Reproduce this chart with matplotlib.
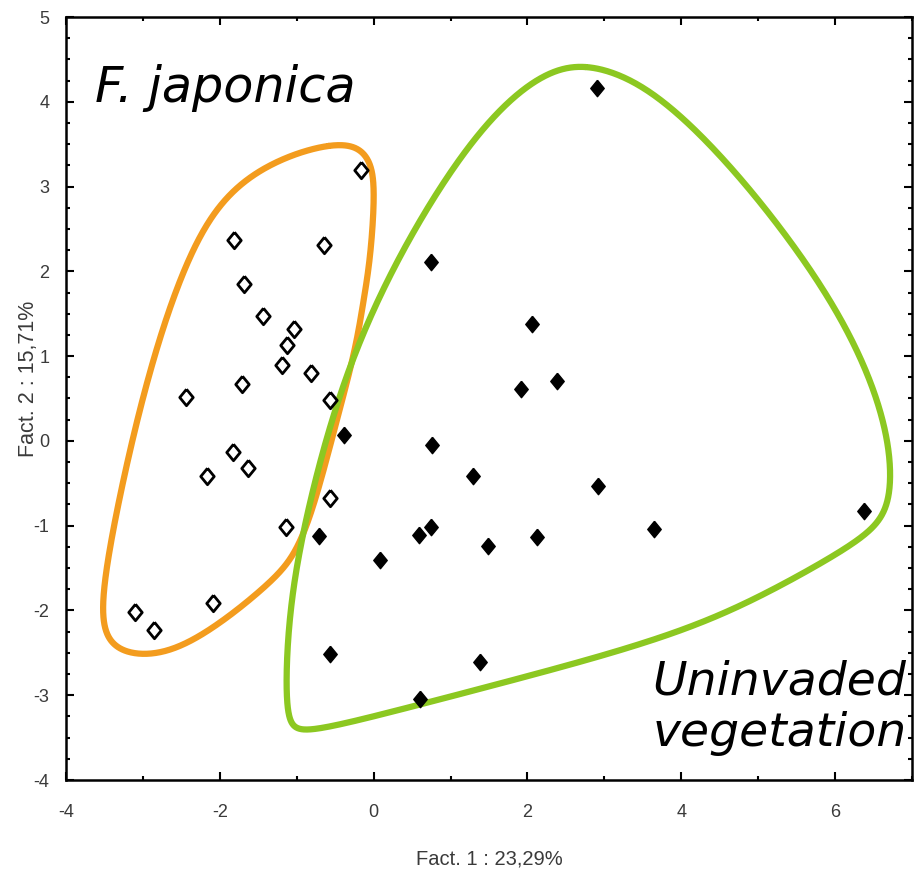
import numpy as np
import matplotlib
matplotlib.use("Agg")
import matplotlib.pyplot as plt
from matplotlib.ticker import MultipleLocator

plt.rcParams['axes.unicode_minus'] = False

# ---- data ----
jap_x = [-0.16, -1.82, -0.65, -1.68, -1.44, -1.04, -1.12, -1.19, -0.82, -2.44,
         -1.71, -0.57, -1.83, -1.64, -2.17, -0.57, -1.14, -2.09, -3.10, -2.86]
jap_y = [3.20, 2.37, 2.31, 1.85, 1.47, 1.32, 1.13, 0.90, 0.80, 0.52,
         0.67, 0.48, -0.13, -0.32, -0.41, -0.67, -1.01, -1.91, -2.02, -2.23]

uni_x = [2.91, 0.74, 2.06, 2.38, 1.91, -0.39, 0.76, 1.29, 2.92, 6.38,
         3.65, 0.74, 0.59, -0.71, 2.13, 1.49, 0.08, -0.57, 1.38, 0.60]
uni_y = [4.16, 2.11, 1.38, 0.71, 0.61, 0.07, -0.05, -0.41, -0.53, -0.83,
         -1.04, -1.01, -1.11, -1.12, -1.13, -1.24, -1.40, -2.51, -2.61, -3.05]

# hull outlines (control points)
orange_hx = [-0.53, -0.18, -0.01, 0.01, -0.05, -0.14, -0.22, -0.44, -0.70, -0.96,
             -1.22, -1.65, -2.30, -2.82, -3.26, -3.49, -3.53, -3.47, -3.26, -2.95,
             -2.61, -2.26, -1.83, -1.18]
orange_hy = [3.51, 3.47, 3.23, 2.84, 2.05, 1.66, 1.11, 0.40, -0.54, -1.25,
             -1.56, -1.91, -2.35, -2.53, -2.50, -2.31, -1.96, -1.44, -0.46, 0.72,
             1.70, 2.45, 3.00, 3.35]

green_hx = [2.73, 3.31, 3.95, 4.74, 5.55, 6.18, 6.60, 6.73, 6.70, 6.55,
            6.06, 5.01, 3.95, 2.36, 0.77, -0.56, -1.04, -1.14, -1.12, -0.92,
            -0.56, -0.03, 0.77, 1.56, 2.26]
green_hy = [4.44, 4.30, 3.89, 3.15, 2.21, 1.31, 0.41, -0.27, -0.70, -1.01,
            -1.32, -1.85, -2.28, -2.69, -3.07, -3.38, -3.43, -3.17, -2.11, -1.06,
            0.26, 1.57, 2.89, 3.89, 4.36]

xticks = [-4, -2, 0, 2, 4, 6]
yticks = [-4, -3, -2, -1, 0, 1, 2, 3, 4, 5]
xlabel = "Fact. 1 : 23,29%"
ylabel = "Fact. 2 : 15,71%"


def closed_smooth(xs, ys, n=40, win=25):
    P = np.column_stack([xs, ys])
    m = len(P)
    out = []
    t = np.linspace(0, 1, n, endpoint=False)[:, None]
    for i in range(m):
        p0, p1, p2, p3 = P[(i - 1) % m], P[i], P[(i + 1) % m], P[(i + 2) % m]
        seg = 0.5 * ((2 * p1) + (-p0 + p2) * t + (2 * p0 - 5 * p1 + 4 * p2 - p3) * t ** 2
                     + (-p0 + 3 * p1 - 3 * p2 + p3) * t ** 3)
        out.append(seg)
    C = np.vstack(out)
    # circular gaussian smoothing
    k = np.arange(-2 * win, 2 * win + 1)
    w = np.exp(-0.5 * (k / win) ** 2)
    w /= w.sum()
    S = np.zeros_like(C)
    for j, wj in zip(k, w):
        S += wj * np.roll(C, j, axis=0)
    S = np.vstack([S, S[:1]])
    return S[:, 0], S[:, 1]


narrow = ['Liberation Sans Narrow', 'Liberation Sans', 'DejaVu Sans']

fig = plt.figure(figsize=(9.18, 8.72), dpi=100)
ax = fig.add_axes([66 / 918, 92 / 872, 846 / 918, 763 / 872])

ox, oy = closed_smooth(orange_hx, orange_hy)
gx, gy = closed_smooth(green_hx, green_hy)
ax.plot(ox, oy, color='#F39C1E', lw=4.5, solid_capstyle='round', zorder=2)
ax.plot(gx, gy, color='#8CC821', lw=4.5, solid_capstyle='round', zorder=2)

diamond = [(0, 1), (0.82, 0), (0, -1), (-0.82, 0), (0, 1)]
ax.scatter(jap_x, jap_y, marker=diamond, s=140, facecolors='white',
           edgecolors='black', linewidths=2.0, zorder=3)
ax.scatter(uni_x, uni_y, marker=diamond, s=140, facecolors='black',
           edgecolors='black', linewidths=1.0, zorder=3)

ax.set_xlim(-4, 7)
ax.set_ylim(-4, 5)
ax.set_xticks(xticks)
ax.set_yticks(yticks)
ax.xaxis.set_minor_locator(MultipleLocator(1))
ax.yaxis.set_minor_locator(MultipleLocator(0.25))
ax.tick_params(which='both', direction='in', top=True, right=True,
               colors='black', labelcolor='#3a3a3a', width=1.5)
ax.tick_params(which='major', length=6, labelsize=13)
ax.tick_params(which='minor', length=3)
ax.tick_params(axis='x', which='major', pad=17)
ax.tick_params(axis='y', which='major', pad=12)
for lab in ax.get_xticklabels() + ax.get_yticklabels():
    lab.set_family(narrow)
for s in ax.spines.values():
    s.set_linewidth(1.8)

fig.text(489 / 918, 1 - 859 / 872, xlabel, ha='center', va='center',
         fontsize=14.5, color='#3a3a3a', family=narrow)
fig.text(29 / 918, 1 - 379 / 872, ylabel, ha='center', va='center',
         rotation=90, fontsize=15.5, color='#3a3a3a', family=narrow)

ax.text(-3.62, 4.0, "F. japonica", fontsize=35.5, style='italic',
        family='DejaVu Sans', ha='left', va='baseline', zorder=4)
ax.text(6.93, -2.99, "Uninvaded", fontsize=34, style='italic',
        family='DejaVu Sans', ha='right', va='baseline', zorder=4)
ax.text(6.93, -3.60, "vegetation", fontsize=34, style='italic',
        family='DejaVu Sans', ha='right', va='baseline', zorder=4)

fig.savefig("out.png", dpi=100)
